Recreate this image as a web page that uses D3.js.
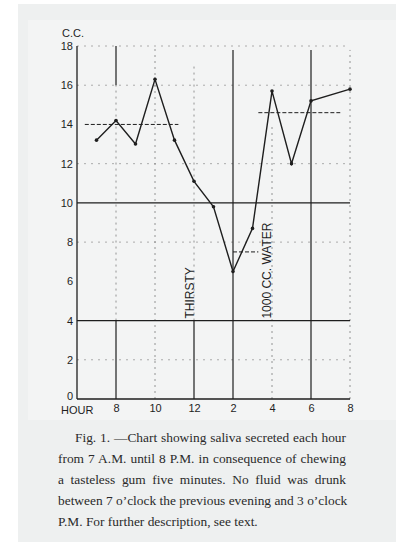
<!DOCTYPE html>
<html>
<head>
<meta charset="utf-8">
<script src="https://cdn.jsdelivr.net/npm/d3@7"></script>
<style>
  body { margin: 0; background: #ffffff; }
  #wrap { position: relative; width: 403px; height: 542px; overflow: hidden; }
  #caption {
    position: absolute; left: 58px; top: 427px; width: 288px;
    font-family: "Liberation Serif", "Times New Roman", serif;
    font-size: 13.4px; line-height: 21px; color: #2a2a2a;
  }
  #caption div { white-space: nowrap; text-align: justify; text-align-last: justify; }
  #caption div.first { padding-left: 17px; }
  #caption div.last { text-align-last: left; }
</style>
</head>
<body>
<div id="wrap">
  <div id="chart"></div>
  <div id="caption"></div>
</div>
<script>
// hours on a 24h clock, saliva in c.c.
const hours = [7, 8, 9, 10, 11, 12, 13, 14, 15, 16, 17, 18, 20];
const saliva = [13.2, 14.2, 13.0, 16.3, 13.2, 11.1, 9.8, 6.5, 8.7, 15.7, 12.0, 15.2, 15.8];

const xTicks = [8, 10, 12, 14, 16, 18, 20];
const xTickLabels = ["8", "10", "12", "2", "4", "6", "8"];
const yTicks = [0, 2, 4, 6, 8, 10, 12, 14, 16, 18];

const captionLines = [
  "Fig. 1. —Chart showing saliva secreted each hour",
  "from 7 A.M. until 8 P.M. in consequence of chewing",
  "a tasteless gum five minutes. No fluid was drunk",
  "between 7 o\u2019clock the previous evening and 3 o\u2019clock",
  "P.M. For further description, see text."
];

// solid rulings on the chart paper
const solidRows = [10, 4];
const solidCols = [[14, 0, 17.8], [18, 0, 17.8], [8, 0, 4], [12, 0, 4], [8, 16, 18]];
// faint dotted rulings
const dotRows = [18, 16, 12, 8, 2];
const dotCols = [[8, 4, 16], [10, 0, 18], [12, 4, 17], [16, 0, 14], [20, 0, 17.8]];
// dashed marks
const dashRows = [[14, 6.4, 11.2], [14.6, 15.3, 19.5], [7.5, 14, 15.3]];

const W = 403, H = 542;
const svg = d3.select("#chart")
  .append("svg")
    .attr("width", W)
    .attr("height", H)
    .style("position", "absolute")
    .style("left", 0).style("top", 0);

// page background panels
svg.append("rect").attr("x", 18).attr("y", 4).attr("width", 378).attr("height", 540).attr("fill", "#eef0f0");
svg.append("rect").attr("x", 28).attr("y", 20).attr("width", 368).attr("height", 400).attr("fill", "#f3f4f4");

const x = d3.scaleLinear().domain([6, 20]).range([77, 350]);
const y = d3.scaleLinear().domain([0, 18]).range([399, 46]);

const ink = "#1e1e1e";
const g = svg.append("g");

// dotted rulings
dotRows.forEach(v => {
  g.append("line").attr("x1", x(6)).attr("x2", x(20)).attr("y1", y(v)).attr("y2", y(v))
    .attr("stroke", "#999").attr("stroke-width", 0.8).attr("stroke-dasharray", "2,5");
});
dotCols.forEach(c => {
  g.append("line").attr("x1", x(c[0])).attr("x2", x(c[0])).attr("y1", y(c[1])).attr("y2", y(c[2]))
    .attr("stroke", "#888").attr("stroke-width", 0.9).attr("stroke-dasharray", "2,4");
});

// dashed marks
dashRows.forEach(d => {
  g.append("line").attr("x1", x(d[1])).attr("x2", x(d[2])).attr("y1", y(d[0])).attr("y2", y(d[0]))
    .attr("stroke", ink).attr("stroke-width", 1).attr("stroke-dasharray", "4,2");
});

// solid rulings
solidRows.forEach(v => {
  g.append("line").attr("x1", x(6)).attr("x2", x(20)).attr("y1", y(v)).attr("y2", y(v))
    .attr("stroke", ink).attr("stroke-width", 1.2);
});
solidCols.forEach(c => {
  g.append("line").attr("x1", x(c[0])).attr("x2", x(c[0])).attr("y1", y(c[1])).attr("y2", y(c[2]))
    .attr("stroke", ink).attr("stroke-width", 1.2);
});

// axes
g.append("line").attr("x1", x(6)).attr("x2", x(6)).attr("y1", y(0)).attr("y2", y(18))
  .attr("stroke", ink).attr("stroke-width", 1.3);
g.append("line").attr("x1", x(6)).attr("x2", x(20)).attr("y1", y(0)).attr("y2", y(0))
  .attr("stroke", ink).attr("stroke-width", 1.3);

const yAxis = svg.append("g")
  .attr("transform", "translate(" + x(6) + ",0)")
  .call(d3.axisLeft(y).tickValues(yTicks).tickSize(0).tickPadding(4));
yAxis.select(".domain").remove();
yAxis.selectAll("text")
  .attr("font-family", "Liberation Sans, Arial, sans-serif")
  .attr("font-size", 11).attr("fill", ink);
// the 0 sits just above HOUR
yAxis.selectAll(".tick").filter(d => d === 0).select("text").attr("dy", "0.05em");

const xAxis = svg.append("g")
  .attr("transform", "translate(0," + y(0) + ")")
  .call(d3.axisBottom(x).tickValues(xTicks).tickSize(0).tickPadding(5)
    .tickFormat((d, i) => xTickLabels[i]));
xAxis.select(".domain").remove();
xAxis.selectAll("text")
  .attr("font-family", "Liberation Sans, Arial, sans-serif")
  .attr("font-size", 11).attr("fill", ink);

svg.append("text").attr("x", 61).attr("y", 414)
  .attr("font-family", "Liberation Sans, Arial, sans-serif").attr("font-size", 11)
  .attr("fill", ink).text("HOUR");
svg.append("text").attr("x", 62).attr("y", 37)
  .attr("font-family", "Liberation Sans, Arial, sans-serif").attr("font-size", 11)
  .attr("fill", ink).text("C.C.");

// annotations
svg.append("text")
  .attr("transform", "translate(" + (x(11.8) + 4) + "," + y(4.1) + ") rotate(-90)")
  .attr("font-family", "Liberation Sans, Arial, sans-serif").attr("font-size", 12)
  .attr("fill", ink).text("THIRSTY");
svg.append("text")
  .attr("transform", "translate(" + (x(15.75) + 4) + "," + y(4.1) + ") rotate(-90)")
  .attr("font-family", "Liberation Sans, Arial, sans-serif").attr("font-size", 12)
  .attr("fill", ink).text("1000 CC. WATER");

// the saliva line
const pts = hours.map((h, i) => [h, saliva[i]]);
svg.append("path")
  .datum(pts)
  .attr("fill", "none")
  .attr("stroke", ink)
  .attr("stroke-width", 1.4)
  .attr("d", d3.line().x(d => x(d[0])).y(d => y(d[1])));
svg.selectAll("circle.pt")
  .data(pts)
  .join("circle")
    .attr("class", "pt")
    .attr("cx", d => x(d[0]))
    .attr("cy", d => y(d[1]))
    .attr("r", 1.8)
    .attr("fill", ink);

// caption, one line per row as in the print
d3.select("#caption").selectAll("div")
  .data(captionLines)
  .join("div")
    .attr("class", (d, i) => i === 0 ? "first" : (i === captionLines.length - 1 ? "last" : null))
    .text(d => d);
</script>
</body>
</html>
